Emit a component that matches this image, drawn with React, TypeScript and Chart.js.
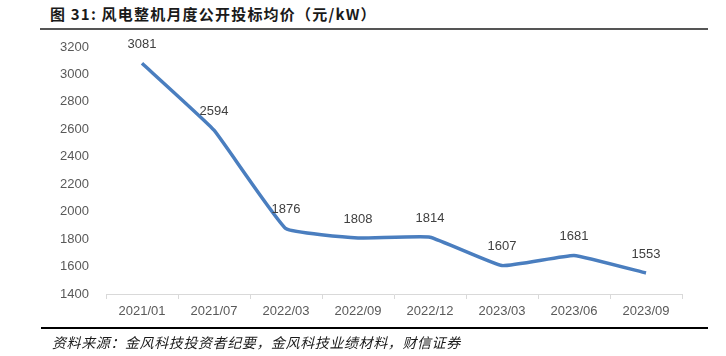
import React, { useEffect, useRef } from "react";
import { Chart, registerables } from "chart.js";

Chart.register(...registerables);

const categories = ["2021/01", "2021/07", "2022/03", "2022/09", "2022/12", "2023/03", "2023/06", "2023/09"];
const prices = [3081, 2594, 1876, 1808, 1814, 1607, 1681, 1553];
const yMin = 1400;
const yMax = 3200;
const yStep = 200;

const titleText = "图 31:  风电整机月度公开投标均价（元/kW）";
const sourceText = "资料来源：金风科技投资者纪要，金风科技业绩材料，财信证券";

const FONT = "'Liberation Sans', Arial, sans-serif";

const dataLabelPlugin = {
  id: "dataLabels",
  afterDatasetsDraw(chart: any) {
    const ctx = chart.ctx;
    const meta = chart.getDatasetMeta(0);
    ctx.save();
    ctx.font = `13px ${FONT}`;
    ctx.fillStyle = "#404040";
    ctx.textAlign = "center";
    ctx.textBaseline = "middle";
    meta.data.forEach((pt: any, i: number) => {
      ctx.fillText(String(prices[i]), pt.x, pt.y - 19);
    });
    ctx.restore();
  },
};

export default function App() {
  const canvasRef = useRef<HTMLCanvasElement>(null);

  useEffect(() => {
    const chart = new Chart(canvasRef.current!, {
      type: "line",
      data: {
        labels: categories,
        datasets: [
          {
            data: prices,
            borderColor: "#4a7ebf",
            borderWidth: 3.5,
            pointRadius: 0,
            tension: 0.1,
            fill: false,
          },
        ],
      },
      options: {
        animation: false,
        responsive: false,
        maintainAspectRatio: false,
        layout: { padding: { left: 0, top: 47, right: 44, bottom: 0 } },
        plugins: { legend: { display: false }, tooltip: { enabled: false } },
        scales: {
          x: {
            type: "category",
            offset: true,
            grid: {
              offset: true,
              drawOnChartArea: false,
              drawTicks: true,
              tickLength: 5,
              color: "#d9d9d9",
            },
            border: { display: true, color: "#d9d9d9", width: 1 },
            ticks: {
              color: "#595959",
              font: { family: FONT, size: 13 },
              padding: 5,
              maxRotation: 0,
              autoSkip: false,
            },
            afterFit(scale: any) {
              scale.height = 62;
            },
          },
          y: {
            min: yMin,
            max: yMax,
            grid: { display: false, drawTicks: false },
            border: { display: false },
            ticks: {
              stepSize: yStep,
              color: "#595959",
              font: { family: FONT, size: 13 },
              padding: 17,
              callback: (v: any) => String(v),
            },
            afterFit(scale: any) {
              scale.width = 106;
            },
          },
        },
      },
      plugins: [dataLabelPlugin],
    });
    return () => chart.destroy();
  }, []);

  return (
    <div style={{ position: "fixed", left: 0, top: 0, width: 726, height: 356, background: "#fff", overflow: "hidden" }}>
      <div
        style={{
          position: "absolute",
          left: 50,
          top: 4,
          fontFamily: "'Noto Sans CJK SC', sans-serif",
          fontWeight: 700,
          fontSize: 15,
          letterSpacing: 1.2,
          color: "#1a1a1a",
          whiteSpace: "nowrap",
          lineHeight: "20px",
        }}
      >
        {titleText}
      </div>
      <div style={{ position: "absolute", left: 40, top: 28, width: 668, height: 2, background: "#555" }} />
      <canvas ref={canvasRef} width={726} height={356} style={{ position: "absolute", left: 0, top: 0, width: 726, height: 356 }} />
      <div style={{ position: "absolute", left: 41, top: 327, width: 667, height: 1.5, background: "#000" }} />
      <div
        style={{
          position: "absolute",
          left: 52,
          top: 332,
          fontFamily: "'Noto Sans CJK SC', sans-serif",
          fontStyle: "italic",
          fontSize: 14,
          letterSpacing: 0.6,
          color: "#1a1a1a",
          whiteSpace: "nowrap",
          lineHeight: "20px",
        }}
      >
        {sourceText}
      </div>
    </div>
  );
}
